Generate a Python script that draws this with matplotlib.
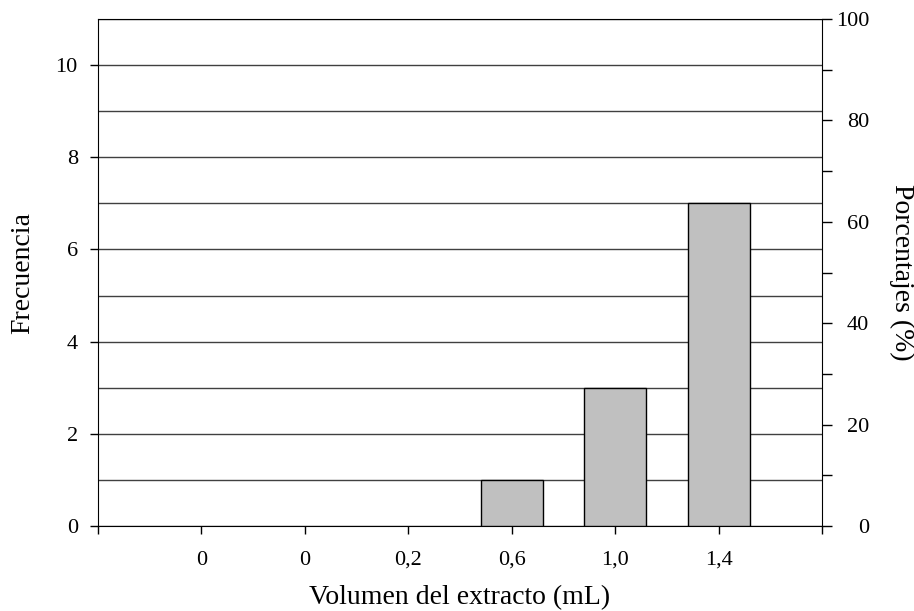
import matplotlib.pyplot as plt
import numpy as np

plt.rcParams['font.family'] = ['Liberation Serif', 'DejaVu Serif']

categorias = ['0', '0', '0,2', '0,6', '1,0', '1,4']
frecuencia = [0, 0, 0, 1, 3, 7]

fig = plt.figure(figsize=(9.14, 6.11), dpi=100)
ax = fig.add_axes([0.1072, 0.1391, 0.7921, 0.8298])

x = np.arange(len(categorias))
ax.set_axisbelow(True)
ax.yaxis.grid(True, which='both', color='#404040', linewidth=1)
# barras vacias sin borde
bordes = [1 if v > 0 else 0 for v in frecuencia]
ax.bar(x, frecuencia, width=0.6, color='#c0c0c0', edgecolor='black', linewidth=bordes, zorder=3)

ax.set_xlim(-1, len(categorias))
ax.set_ylim(0, 11)
ax.set_xticks(np.arange(-1, len(categorias) + 1))
ax.set_xticklabels([''] + categorias + [''])
ax.set_yticks(np.arange(0, 11, 2))
ax.set_yticks(np.arange(0, 12, 1), minor=True)
ax.tick_params(axis='y', which='minor', length=0)
ax.tick_params(axis='both', which='major', labelsize=16, length=6, width=1, direction='out', pad=8.5)
ax.tick_params(axis='x', pad=12)

for s in ['left', 'bottom', 'top']:
    ax.spines[s].set_color('black')
ax.spines['right'].set_visible(False)

ax.set_ylabel('Frecuencia', fontsize=20, va='center')
ax.yaxis.set_label_coords(-0.1036, 0.5)
ax.set_xlabel('Volumen del extracto (mL)', fontsize=20, va='center')
ax.xaxis.set_label_coords(0.5, -0.142)

ax2 = ax.twinx()
ax2.set_ylim(0, 100)
ax2.set_yticks(np.arange(0, 101, 20))
ax2.set_yticks(np.arange(10, 100, 20), minor=True)
ax2.tick_params(axis='y', which='major', labelsize=16, length=7, width=1, direction='out', pad=27)
ax2.tick_params(axis='y', which='minor', length=7, width=1, direction='out')
for lab in ax2.get_yticklabels():
    lab.set_horizontalalignment('right')
for s in ['left', 'bottom', 'top']:
    ax2.spines[s].set_visible(False)
ax2.spines['right'].set_color('black')
ax2.set_ylabel('Porcentajes (%)', fontsize=20, rotation=270, va='center')
ax2.yaxis.set_label_coords(1.1105, 0.5)

fig.savefig('out.png', dpi=100)
